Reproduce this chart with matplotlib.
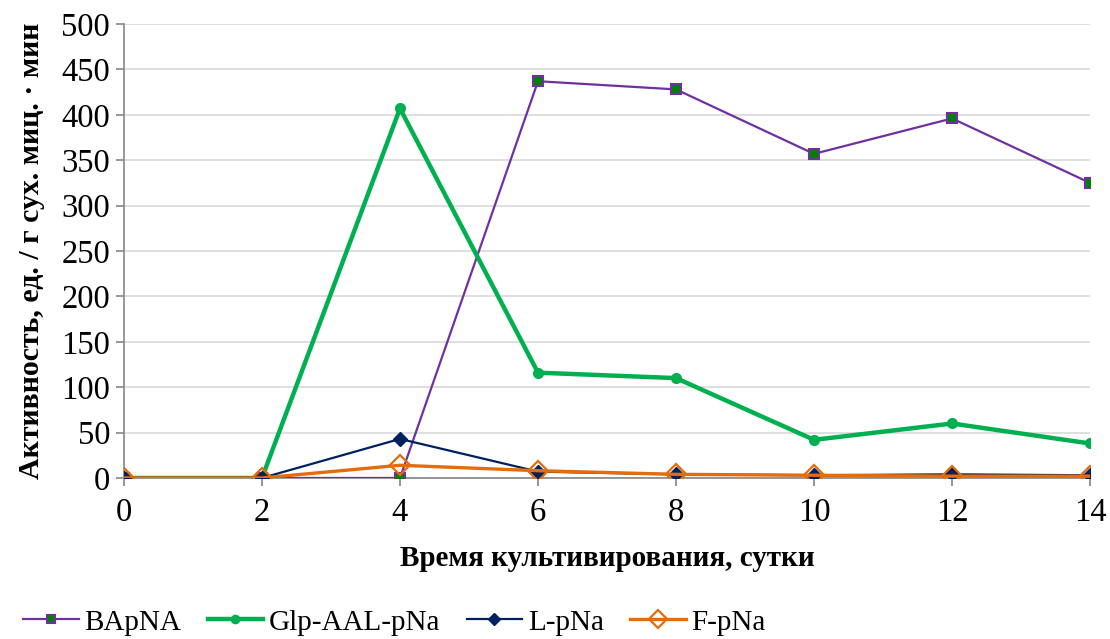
import matplotlib
matplotlib.use("Agg")
import matplotlib.pyplot as plt

days = [0, 2, 4, 6, 8, 10, 12, 14]
bapna = [0, 0, 0, 437, 428, 357, 396, 325]
glp = [0, 0, 407, 116, 110, 42, 60, 38]
lpna = [0, 0, 43, 7, 4, 3, 4, 3]
fpna = [0, 0, 14, 8, 4, 3, 2, 2]
labels = ["BApNA", "Glp-AAL-pNa", "L-pNa", "F-pNa"]

plt.rcParams['font.family'] = ['Liberation Serif', 'DejaVu Serif']

fig = plt.figure(figsize=(11.1, 6.39), dpi=100)
ax = fig.add_axes([0.1117, 0.252, 0.8703, 0.7104])

ax.plot(days, bapna, color='#7030A0', lw=1.6, marker='s', ms=7,
        mfc='#008000', mec='#7030A0', mew=1.5, label=labels[0], zorder=3)
ax.plot(days, glp, color='#00B050', lw=3.2, marker='o', ms=7,
        mfc='#00B050', mec='#00B050', label=labels[1], zorder=4)
ax.plot(days, lpna, color='#002060', lw=1.6, marker='D', ms=7,
        mfc='#002060', mec='#002060', label=labels[2], zorder=5)
ax.plot(days, fpna, color='#E46C0A', lw=2.4, marker='D', ms=10.5,
        mfc='none', mec='#E46C0A', mew=1.6, label=labels[3], zorder=6)

ax.set_xlim(0, 14)
ax.set_ylim(0, 500)
ax.set_xticks(range(0, 15, 2))
ax.set_yticks(range(0, 501, 50))
ax.grid(axis='y', color='#D9D9D9', lw=1.2)
ax.set_axisbelow(True)
for s in ['top', 'right']:
    ax.spines[s].set_visible(False)
for s in ['left', 'bottom']:
    ax.spines[s].set_color('#868686')
    ax.spines[s].set_linewidth(1.2)
ax.tick_params(axis='both', colors='#868686', labelcolor='black', labelsize=23.5, length=6, width=1.2)
ax.tick_params(axis='y', pad=4)
ax.tick_params(axis='x', pad=8)
ax.set_xlabel("Время культивирования, сутки", fontsize=21, fontweight='bold', labelpad=12)
ax.set_ylabel("Активность, ед. / г сух. миц. · мин", fontsize=21.5, fontweight='bold', labelpad=12)
for lab in ax.get_xticklabels() + ax.get_yticklabels():
    lab.set_clip_on(False)

fig.legend(loc='center left', bbox_to_anchor=(0.021, 0.026), ncol=4, frameon=False,
           fontsize=21, handlelength=1.9, handletextpad=0.2, columnspacing=0.9,
           borderpad=0, borderaxespad=0, markerscale=0.85)

fig.savefig("out.png", dpi=100)
